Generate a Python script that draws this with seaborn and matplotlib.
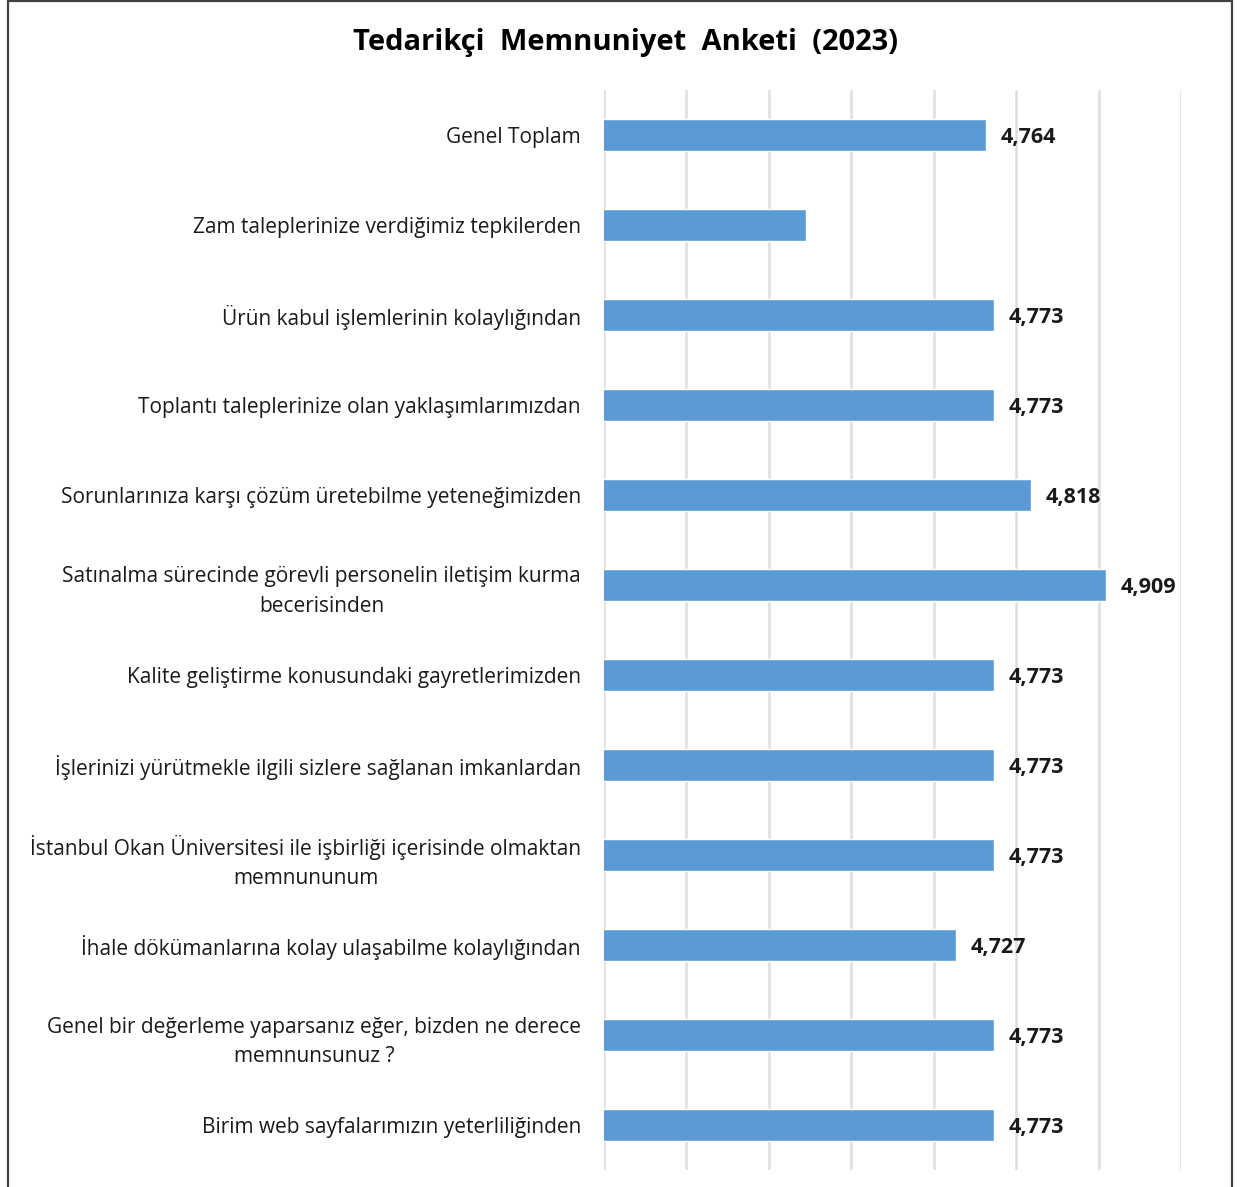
import matplotlib
matplotlib.use("Agg")
import matplotlib.pyplot as plt
import seaborn as sns
import pandas as pd
from matplotlib.lines import Line2D

# --- data ---
categories = [
    "Genel Toplam",
    "Zam taleplerinize verdiğimiz tepkilerden",
    "Ürün kabul işlemlerinin kolaylığından",
    "Toplantı taleplerinize olan yaklaşımlarımızdan",
    "Sorunlarınıza karşı çözüm üretebilme yeteneğimizden",
    "Satınalma sürecinde görevli personelin iletişim kurma\nbecerisinden",
    "Kalite geliştirme konusundaki gayretlerimizden",
    "İşlerinizi yürütmekle ilgili sizlere sağlanan imkanlardan",
    "İstanbul Okan Üniversitesi ile işbirliği içerisinde olmaktan\nmemnununum",
    "İhale dökümanlarına kolay ulaşabilme kolaylığından",
    "Genel bir değerleme yaparsanız eğer, bizden ne derece\nmemnunsunuz ?",
    "Birim web sayfalarımızın yeterliliğinden",
]
values = [4.764, 4.545, 4.773, 4.773, 4.818, 4.909, 4.773, 4.773, 4.773, 4.727, 4.773, 4.773]
# the "Zam" bar carries no data label in the original
show_label = [True, False, True, True, True, True, True, True, True, True, True, True]

df = pd.DataFrame({"kategori": categories, "puan": values})

sns.set_theme(style="white")
plt.rcParams["font.family"] = ["Open Sans", "DejaVu Sans"]

fig = plt.figure(figsize=(12.44, 11.87), dpi=100)
ax = fig.add_axes([0.4855, 0.0143, 0.4638, 0.9099])

sns.barplot(data=df, x="puan", y="kategori", color="#5B9BD5", width=0.36,
            saturation=1, ax=ax, orient="h")

ax.set_xlim(4.3, 5.0)
ax.set_xticks([4.3, 4.4, 4.5, 4.6, 4.7, 4.8, 4.9, 5.0])
ax.xaxis.grid(True, color="#dedede", linewidth=1.8)
ax.set_axisbelow(True)
ax.tick_params(axis="x", labelbottom=False, length=0)
ax.tick_params(axis="y", length=0, pad=16.5, labelsize=15, labelcolor="#1a1a1a")
for lab in ax.get_yticklabels():
    lab.set_multialignment("center")
    lab.set_linespacing(1.55)
for s in ax.spines.values():
    s.set_visible(False)
ax.set_xlabel("")
ax.set_ylabel("")

for i, (v, sh) in enumerate(zip(values, show_label)):
    if sh:
        ax.annotate(f"{v:.3f}".replace(".", ","), xy=(v, i), xytext=(10.5, -2),
                    textcoords="offset points", ha="left", va="center",
                    fontsize=15.5, fontweight="bold", color="#1a1a1a")

fig.text(0.503, 0.964, "Tedarikçi  Memnuniyet  Anketi  (2023)", ha="center", va="center",
         fontsize=21, fontweight="bold", color="#000000")

# chart frame
frame_kw = dict(color="#404040", linewidth=1.6, transform=fig.transFigure)
fig.add_artist(Line2D([0.0068, 0.0068], [0.0, 0.9995], **frame_kw))
fig.add_artist(Line2D([0.0068, 0.9904], [0.9995, 0.9995], **frame_kw))
fig.add_artist(Line2D([0.9904, 0.9904], [0.0, 0.9995], **frame_kw))

fig.savefig("out.png", dpi=100, facecolor="white")
